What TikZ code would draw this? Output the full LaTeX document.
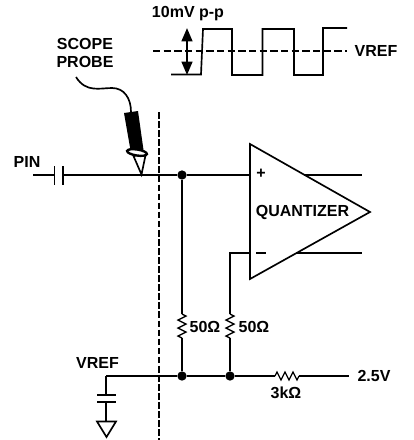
\documentclass[tikz,border=0pt]{standalone}
\usepackage{fontspec}
\setmainfont{Liberation Sans}
\usetikzlibrary{arrows.meta,decorations.pathmorphing}
\tikzset{
  wire/.style={line width=1.25pt},
  lbl/.style={font=\bfseries\fontsize{12}{13}\selectfont,inner sep=0pt},
  resv/.style={line width=1pt,decorate,decoration={zigzag,segment length=6pt,amplitude=3pt}},
  junction/.style={circle,fill=black,inner sep=0pt,minimum size=7pt},
}
\begin{document}
\begin{tikzpicture}[%
      x=0.75pt,y=-0.75pt,
      ]
      \useasboundingbox (0,0) rectangle (414,440);
      % square wave
      \draw [wire] (171,74.5) -- (201,74.5) -- (203,29) -- (232,29) -- (232,75) -- (262.5,75) -- (262.5,29) -- (294,29) -- (294,75) -- (323,75) -- (323,28) -- (347,28);
      \draw [line width=0.8pt,dash pattern=on 5.5pt off 2.5pt] (153,51) -- (347,51);
      \draw [line width=1.6pt,{Triangle[length=10pt,width=8pt]}-{Triangle[length=10pt,width=8pt]}] (187,28) -- (187,75);
      \node [lbl] (swing) at (188,14) {10mV p-p};
      \node [lbl] (vreftop) at (376,51) {VREF};
      % probe
      \node [lbl,align=center] (scope) at (85,53) {SCOPE\\PROBE};
      \coordinate (wirefree) at (76,77);
      \coordinate (wireend) at (131,112);
      \draw [wire] (wirefree) .. controls (86,93) and (100,88) .. (112,88) .. controls (124,88) and (131,98) .. (wireend);
      \fill (124,113) -- (138,111) -- (143.5,150) -- (131,153) -- cycle;
      \draw [wire,fill=white] (133.5,156) -- (146,153) -- (141.5,174.5) -- cycle;
      \draw [line width=1.8pt,fill=white,rotate around={-9:(137,152.5)}] (137,152.5) ellipse (10 and 3);
      % dashed boundary
      \draw [line width=0.9pt,dash pattern=on 5pt off 1.8pt] (159,112) -- (159,440);
      % input
      \node [lbl] (pin) at (27,162) {PIN};
      \coordinate (pinfree) at (33,175);
      \coordinate (capa) at (54.5,175);
      \coordinate (capb) at (63,175);
      \coordinate (plus) at (250,175);
      \node [junction] (jplus) at (182,175) {};
      \draw [wire] (pinfree) -- (capa);
      \draw [wire] (capb) -- (jplus) -- (plus);
      \draw [wire] (54.5,166) -- (54.5,184.5);
      \draw [wire] (63,166) -- (63,184.5);
      % quantizer
      \draw [wire,line join=miter] (250,144) -- (370,212) -- (250,279) -- cycle;
      \node [lbl] (quant) at (302.5,212) {QUANTIZER};
      \node [lbl] (plussign) at (261,174) {+};
      \draw [wire] (256,253) -- (265.5,253);
      \coordinate (outtop) at (362,175);
      \coordinate (outbot) at (362,253);
      \draw [wire] (304,175) -- (outtop);
      \draw [wire] (296,253) -- (outbot);
      % terminations
      \node [junction] (jleft) at (182,376) {};
      \node [junction] (jright) at (230,376) {};
      \coordinate (corner) at (230,253);
      \coordinate (minus) at (250,253);
      \draw [wire] (minus) -- (corner) -- (230,314);
      \draw [resv] (230,314) -- (230,338);
      \draw [wire] (230,338) -- (jright);
      \draw [wire] (jplus) -- (182,314);
      \draw [resv] (182,314) -- (182,338);
      \draw [wire] (182,338) -- (jleft);
      \node [lbl] (rleft) at (205,327) {50Ω};
      \node [lbl] (rright) at (254,327) {50Ω};
      % bottom rail
      \coordinate (vrefnode) at (106,376);
      \coordinate (railend) at (349,376);
      \draw [wire] (vrefnode) -- (jleft) -- (jright) -- (275,376);
      \draw [resv] (275,376) -- (299,376);
      \draw [wire] (299,376) -- (railend);
      \node [lbl] (rail) at (374,376) {2.5V};
      \node [lbl] (rthree) at (286,393) {3kΩ};
      \node [lbl] (vrefbot) at (97.5,363) {VREF};
      % decoupling cap and ground
      \draw [wire] (vrefnode) -- (106,395);
      \draw [wire] (97,395) -- (116,395);
      \draw [wire] (97,402) -- (116,402);
      \draw [wire] (106,402) -- (106,421);
      \draw [wire] (97,421.5) -- (116,421.5) -- (106.5,437) -- cycle;
\end{tikzpicture}
\end{document}
